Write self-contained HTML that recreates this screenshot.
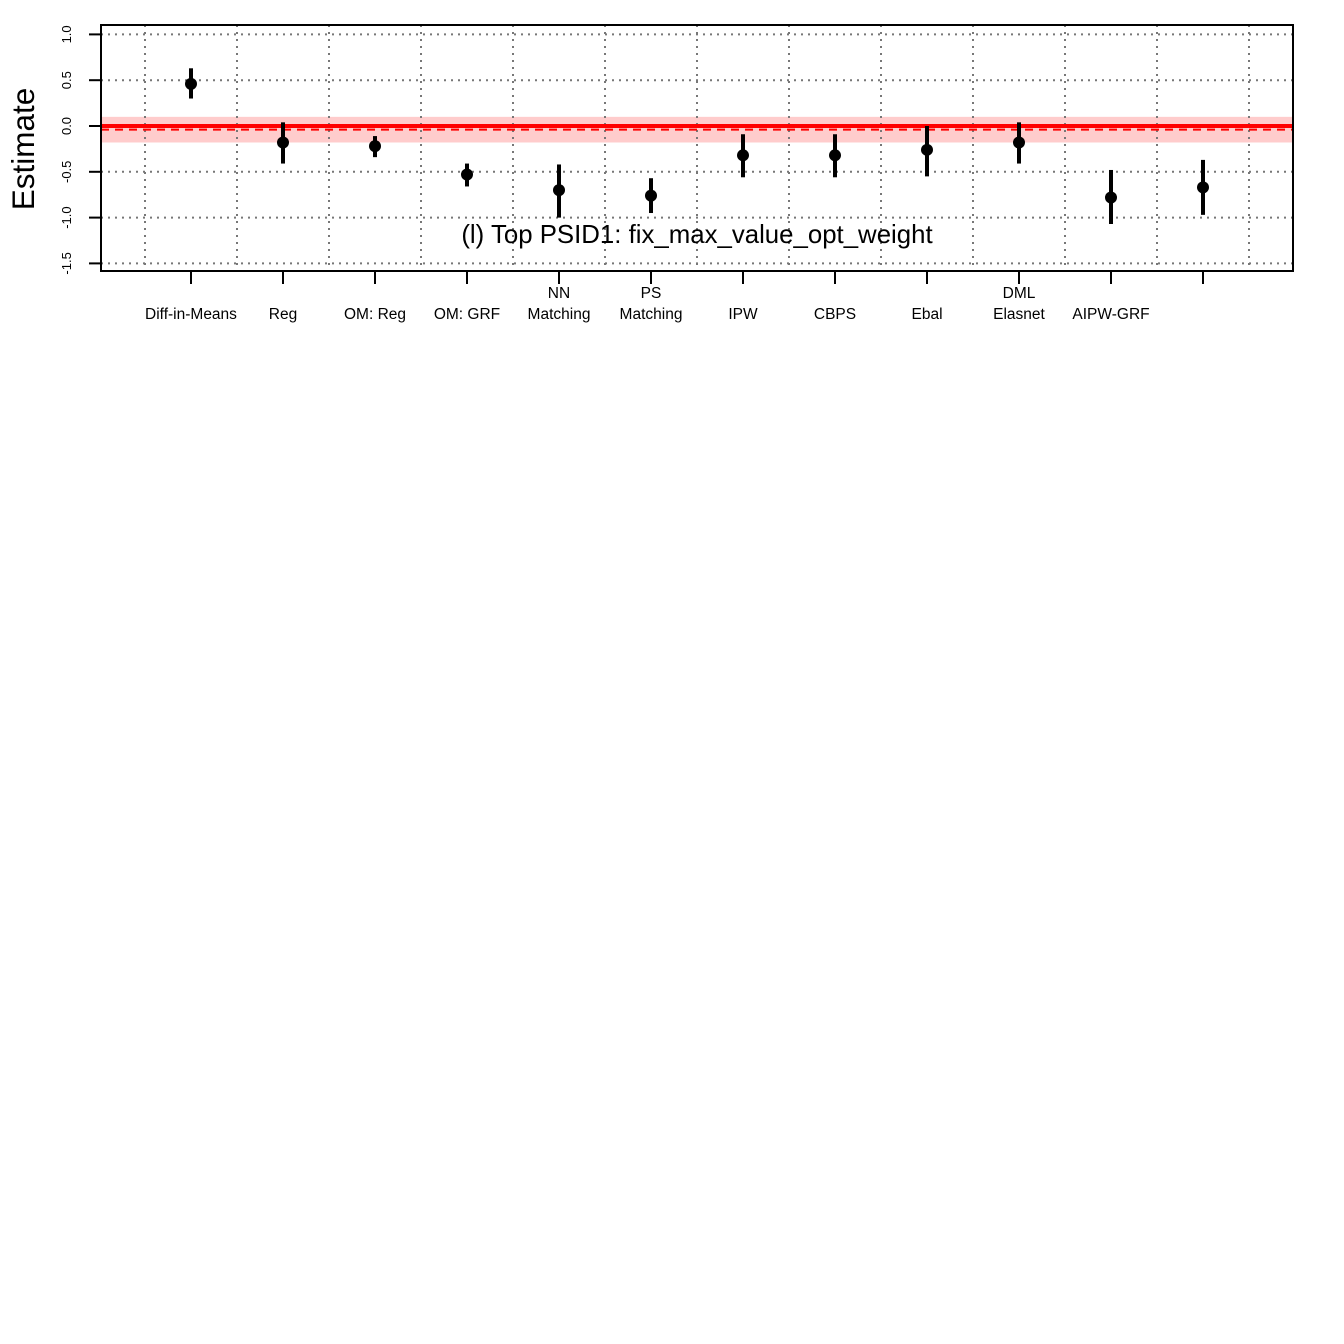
<!DOCTYPE html>
<html><head><meta charset="utf-8"><style>body{margin:0;background:#fff}svg{display:block}</style></head>
<body>
<svg id="chart" width="1344" height="1344" xmlns="http://www.w3.org/2000/svg" font-family="Liberation Sans, sans-serif">
<rect width="1344" height="1344" fill="#fff"/>
<g id="g"></g>
</svg>
<script>
const categories = [["Diff-in-Means"],["Reg"],["OM: Reg"],["OM: GRF"],["NN","Matching"],["PS","Matching"],["IPW"],["CBPS"],["Ebal"],["DML","Elasnet"],["AIPW-GRF"],[""]];
const estimates = [0.46,-0.18,-0.22,-0.53,-0.70,-0.76,-0.32,-0.32,-0.26,-0.18,-0.78,-0.67];
const ciLow = [0.30,-0.41,-0.34,-0.66,-1.00,-0.95,-0.56,-0.56,-0.55,-0.41,-1.07,-0.97];
const ciHigh = [0.63,0.04,-0.11,-0.41,-0.42,-0.57,-0.09,-0.09,0.00,0.04,-0.48,-0.37];
const yTicks = [1.0,0.5,0.0,-0.5,-1.0,-1.5];
const yTickLabels = ["1.0","0.5","0.0","-0.5","-1.0","-1.5"];
const benchmark = 0.0, benchDashed = -0.04, bandLow = -0.18, bandHigh = 0.10;

const NS="http://www.w3.org/2000/svg", g=document.getElementById('g');
const L=101,R=1293,T=25,B=271;
const y=v=>126-v*91.6;
const x=i=>191+i*92;
function el(t,a,p){const e=document.createElementNS(NS,t);for(const k in a)e.setAttribute(k,a[k]);(p||g).appendChild(e);return e;}
let e=el('rect',{x:L,y:y(bandHigh),width:R-L,height:y(bandLow)-y(bandHigh),fill:'#ffcccc'});


yTicks.forEach(v=>{let l=el('line',{x1:L,x2:R,y1:y(v),y2:y(v),stroke:'#777','stroke-width':2,'stroke-dasharray':'2 5'});

});
for(let i=0;i<=categories.length;i++){let l=el('line',{x1:x(i)-46,x2:x(i)-46,y1:T,y2:B,stroke:'#777','stroke-width':2,'stroke-dasharray':'2 5'});

}
e=el('line',{x1:L,x2:R,y1:y(benchmark),y2:y(benchmark),stroke:'#f00','stroke-width':4});


e=el('line',{x1:L,x2:R,y1:y(benchDashed),y2:y(benchDashed),stroke:'#f00','stroke-width':2,'stroke-dasharray':'8 6'});


estimates.forEach((v,i)=>{
 let l=el('line',{x1:x(i),x2:x(i),y1:y(ciLow[i]),y2:y(ciHigh[i]),stroke:'#000','stroke-width':4});
 
 
 let c=el('circle',{cx:x(i),cy:y(v),r:6,fill:'#000'});
 
 
 let t=el('line',{x1:x(i),x2:x(i),y1:B,y2:B+13,stroke:'#000','stroke-width':2});
 
 
 const lines=categories[i];
 lines.forEach((s,j)=>{let tx=el('text',{x:x(i),y:319-(lines.length-1-j)*21,'text-anchor':'middle','font-size':15.5});tx.textContent=s;
 
 });
});
yTicks.forEach((v,i)=>{let t=el('line',{x1:L-12,x2:L,y1:y(v),y2:y(v),stroke:'#000','stroke-width':2});


let tx=el('text',{x:0,y:0,'text-anchor':'middle','font-size':13,transform:`translate(71,${y(v)}) rotate(-90)`});tx.textContent=yTickLabels[i];

});
e=el('text',{x:0,y:0,'text-anchor':'middle','font-size':31.5,transform:'translate(34,149) rotate(-90)'});e.textContent='Estimate';


e=el('text',{x:697,y:243,'text-anchor':'middle','font-size':25.8});e.textContent='(l) Top PSID1: fix_max_value_opt_weight';


e=el('rect',{x:L,y:T,width:R-L,height:B-T,fill:'none',stroke:'#000','stroke-width':2});


</script>
</body></html>
